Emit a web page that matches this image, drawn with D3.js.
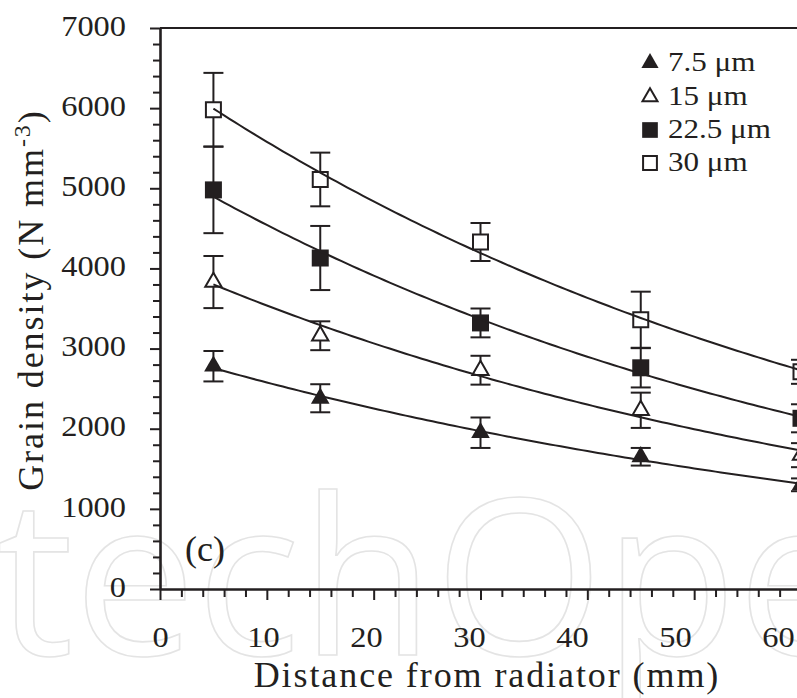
<!DOCTYPE html>
<meta charset="utf-8">
<style>
body { margin: 0; background: #fff; }
svg { display: block; }
text { font-family: "Liberation Serif", "Times New Roman", serif; fill: #231f20; }
</style>
<svg width="797" height="698" id="chart"></svg>
<script src="https://d3js.org/d3.v7.min.js"></script>
<script>
// distances (mm) where grain density was measured
var distance = [5, 15, 30, 45, 60];

var seriesNames = ["7.5 \u03bcm", "15 \u03bcm", "22.5 \u03bcm", "30 \u03bcm"];

// grain density (N mm-3) and error bar half widths
var density75  = [2780, 2380, 1950, 1650, 1300];
var err75      = [190, 175, 190, 110, 80];
var density15  = [3830, 3160, 2730, 2230, 1670];
var err15      = [325, 180, 180, 220, 150];
var density225 = [4980, 4130, 3320, 2760, 2130];
var err225     = [540, 400, 180, 245, 175];
var density30  = [5980, 5110, 4330, 3360, 2710];
var err30      = [460, 335, 237, 350, 150];

var yMajor = [0, 1000, 2000, 3000, 4000, 5000, 6000, 7000];
var xMajor = [0, 10, 20, 30, 40, 50, 60];

var svg = d3.select("svg#chart"),
    width = +svg.attr("width"),
    height = +svg.attr("height");

var x = d3.scaleLinear().domain([0, 60]).range([160, 801]);
// tick labels in the original sit a little left of their ticks
var xLabel = d3.scaleLinear().domain([0, 60]).range([160, 778]);
var y = d3.scaleLinear().domain([0, 7000]).range([589, 28]);

var series = [
  {name: seriesNames[0], vals: density75,  errs: err75,  shape: d3.symbolTriangle, filled: true},
  {name: seriesNames[1], vals: density15,  errs: err15,  shape: d3.symbolTriangle, filled: false},
  {name: seriesNames[2], vals: density225, errs: err225, shape: d3.symbolSquare,   filled: true},
  {name: seriesNames[3], vals: density30,  errs: err30,  shape: d3.symbolSquare,   filled: false}
];

function markerSize(s) {
  if (s.shape === d3.symbolTriangle) return s.filled ? 150 : 115;
  return s.filled ? 289 : 225;
}

// widen the serif text a bit, the original font runs wider
function widen(sel, f, how) {
  sel.each(function() {
    var w = this.getComputedTextLength();
    d3.select(this).attr("textLength", w * f).attr("lengthAdjust", how || "spacingAndGlyphs");
  });
}

// faint watermark behind everything
svg.append("text")
    .attr("x", -4)
    .attr("y", 655)
    .style("font-family", "'Open Sans', sans-serif")
    .style("font-weight", 400)
    .style("font-size", "218px")
    .style("fill", "none")
    .style("stroke", "#e4e4e4")
    .style("stroke-width", 1.6)
    .text("techOpen");

// top frame line
svg.append("line")
    .attr("x1", x(0)).attr("x2", width)
    .attr("y1", y(7000)).attr("y2", y(7000))
    .attr("stroke", "#231f20").attr("stroke-width", 2);

// y axis
var yAxis = svg.append("g")
    .attr("transform", "translate(" + x(0) + ",0)")
    .call(d3.axisLeft(y)
      .tickValues(d3.range(0, 7001, 200))
      .tickSizeOuter(0)
      .tickSizeInner(10)
      .tickPadding(24)
      .tickFormat(function(d) { return yMajor.indexOf(d) >= 0 ? d : ""; }));
yAxis.select(".domain").attr("stroke", "#231f20").attr("stroke-width", 2.6);
yAxis.selectAll(".tick line")
    .attr("stroke", "#231f20").attr("stroke-width", 2)
    .attr("x2", function(d) { return d % 1000 === 0 ? -10 : -7; });
yAxis.selectAll(".tick text")
    .attr("dy", "0.24em")
    .style("font-family", "'Liberation Serif', serif")
    .style("font-size", "30px")
    .style("fill", "#231f20");
widen(yAxis.selectAll(".tick text"), 1.08);

// x axis
var xAxis = svg.append("g")
    .attr("transform", "translate(0," + y(0) + ")")
    .call(d3.axisBottom(x)
      .tickValues(d3.range(0, 61, 2))
      .tickSizeOuter(0)
      .tickSizeInner(11)
      .tickFormat(function(d) { return xMajor.indexOf(d) >= 0 ? d : ""; }));
xAxis.select(".domain").attr("stroke", "#231f20").attr("stroke-width", 2.4);
xAxis.selectAll(".tick line")
    .attr("stroke", "#231f20").attr("stroke-width", 2)
    .attr("y2", function(d) { return d % 10 === 0 ? 11 : 8; });
xAxis.selectAll(".tick text")
    .attr("y", 58)
    .attr("dy", 0)
    .attr("x", function(d) { return xLabel(d) - x(d); })
    .style("font-family", "'Liberation Serif', serif")
    .style("font-size", "30px")
    .style("fill", "#231f20");
widen(xAxis.selectAll(".tick text"), 1.08);

// axis titles
var xTitle = svg.append("text")
    .attr("x", 486).attr("y", 687)
    .attr("text-anchor", "middle")
    .style("font-size", "36px")
    .text("Distance from radiator (mm)");
widen(xTitle, 1.12, "spacing");

var yTitle = svg.append("text")
    .attr("transform", "translate(43,301) rotate(-90)")
    .attr("text-anchor", "middle")
    .style("font-size", "36px");
yTitle.append("tspan").text("Grain density (N mm");
yTitle.append("tspan").attr("dy", -13).style("font-size", "24px").text("-3");
yTitle.append("tspan").attr("dy", 13).text(")");
widen(yTitle, 1.12, "spacing");

svg.append("text")
    .attr("x", 185).attr("y", 561)
    .style("font-size", "36px")
    .text("(c)");

var plot = svg.append("g");

// error bars
series.forEach(function(s) {
  var g = plot.append("g");
  distance.forEach(function(d, i) {
    var cx = x(d), lo = y(s.vals[i] - s.errs[i]), hi = y(s.vals[i] + s.errs[i]);
    g.append("line").attr("x1", cx).attr("x2", cx).attr("y1", lo).attr("y2", hi);
    g.append("line").attr("x1", cx - 10).attr("x2", cx + 10).attr("y1", lo).attr("y2", lo);
    g.append("line").attr("x1", cx - 10).attr("x2", cx + 10).attr("y1", hi).attr("y2", hi);
  });
  g.selectAll("line").attr("stroke", "#231f20").attr("stroke-width", 2);
});

// markers
series.forEach(function(s) {
  plot.append("g").selectAll("path")
    .data(s.vals)
    .enter().append("path")
      .attr("transform", function(v, i) { return "translate(" + x(distance[i]) + "," + y(v) + ")"; })
      .attr("d", d3.symbol().type(s.shape).size(markerSize(s)))
      .attr("fill", s.filled ? "#231f20" : "#fff")
      .attr("stroke", "#231f20")
      .attr("stroke-width", s.filled ? 0 : 2);
});

// exponential trend lines fitted to each series (log-linear least squares)
var trend = d3.line()
    .x(function(p) { return x(p[0]); })
    .y(function(p) { return y(p[1]); });

series.forEach(function(s) {
  var lv = s.vals.map(Math.log);
  var mx = d3.mean(distance), my = d3.mean(lv);
  var sxy = d3.sum(distance, function(d, i) { return (d - mx) * (lv[i] - my); });
  var sxx = d3.sum(distance, function(d) { return (d - mx) * (d - mx); });
  var b = sxy / sxx, a = my - b * mx;
  var pts = d3.range(5, 60.01, 0.5).map(function(d) { return [d, Math.exp(a + b * d)]; });
  plot.append("path")
      .attr("d", trend(pts))
      .attr("fill", "none")
      .attr("stroke", "#231f20")
      .attr("stroke-width", 2);
});

// legend
var legend = svg.append("g");
series.forEach(function(s, i) {
  var cy = [63, 97, 130, 163][i];
  legend.append("path")
      .attr("transform", "translate(650," + cy + ")")
      .attr("d", d3.symbol().type(s.shape).size(markerSize(s) * 0.85))
      .attr("fill", s.filled ? "#231f20" : "#fff")
      .attr("stroke", "#231f20")
      .attr("stroke-width", s.filled ? 0 : 2);
  var t = legend.append("text")
      .attr("x", 668).attr("y", cy + 8)
      .style("font-size", "27px")
      .text(s.name);
  widen(t, 1.15);
});
</script>
